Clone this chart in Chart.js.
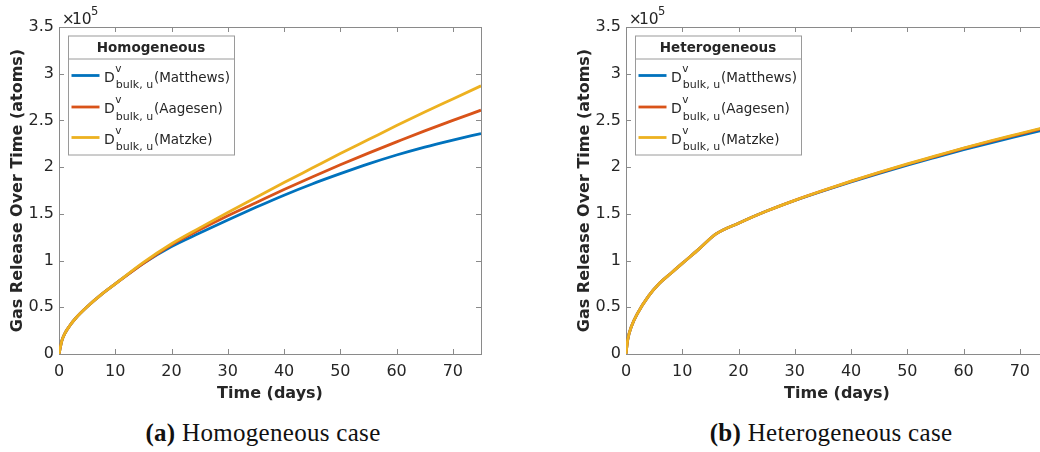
<!DOCTYPE html>
<html>
<head>
<meta charset="utf-8">
<script src="https://cdn.jsdelivr.net/npm/chart.js@4/dist/chart.umd.min.js"></script>
<style>
  html, body { margin: 0; padding: 0; background: #fff; overflow: hidden; width: 1040px; height: 452px; }
  #wrap { position: relative; width: 1040px; height: 452px; overflow: hidden; }
  #wrap canvas { position: absolute; top: 0; }
  .cap { position: absolute; top: 419px; font-family: "Liberation Serif", "Times New Roman", serif; font-size: 25px; color: #111;
         white-space: nowrap; transform: translateX(-50%); letter-spacing: 0.3px; }
  .cap b { font-weight: bold; }
</style>
</head>
<body>
<div id="wrap">
  <canvas id="homo" width="520" height="410" style="left:0px"></canvas>
  <canvas id="hetero" width="520" height="410" style="left:567px"></canvas>
  <div class="cap" style="left:263px"><b>(a)</b> Homogeneous case</div>
  <div class="cap" style="left:831px"><b>(b)</b> Heterogeneous case</div>
</div>
<script>
// Cumulative gas release, in units of 10^5 atoms, versus time in days.
const seriesNames = ['Matthews', 'Aagesen', 'Matzke'];
const seriesColors = ['#0072BD', '#D95319', '#EDB120'];

const homoDays       = [0, 0.5, 1, 2, 3, 5, 7.5, 10, 15, 20, 25, 30, 35, 40, 45, 50, 55, 60, 65, 70, 75];
const homoMatthews   = [0, 0.14, 0.215, 0.31, 0.385, 0.505, 0.635, 0.75, 0.97, 1.15, 1.295, 1.435, 1.57, 1.70, 1.82, 1.93, 2.035, 2.13, 2.215, 2.29, 2.36];
const homoAagesen    = [0, 0.14, 0.215, 0.31, 0.385, 0.505, 0.635, 0.75, 0.97, 1.17, 1.33, 1.48, 1.62, 1.76, 1.895, 2.025, 2.15, 2.27, 2.388, 2.50, 2.61];
const homoMatzke     = [0, 0.14, 0.215, 0.31, 0.385, 0.505, 0.635, 0.75, 0.98, 1.18, 1.35, 1.515, 1.675, 1.835, 1.99, 2.145, 2.295, 2.445, 2.59, 2.73, 2.87];

const heteroDays     = [0, 0.3, 1, 2, 4, 6, 8, 10, 13, 16, 20, 25, 30, 35, 40, 45, 50, 55, 60, 65, 70, 75];
const heteroMatthews = [0, 0.15, 0.30, 0.43, 0.62, 0.76, 0.865, 0.97, 1.125, 1.285, 1.40, 1.53, 1.643, 1.745, 1.842, 1.934, 2.022, 2.105, 2.186, 2.263, 2.336, 2.408];
const heteroAagesen  = [0, 0.15, 0.30, 0.43, 0.62, 0.76, 0.865, 0.97, 1.125, 1.285, 1.40, 1.53, 1.645, 1.749, 1.848, 1.942, 2.031, 2.116, 2.200, 2.279, 2.354, 2.429];
const heteroMatzke   = [0, 0.15, 0.30, 0.43, 0.62, 0.76, 0.865, 0.97, 1.125, 1.285, 1.40, 1.53, 1.645, 1.750, 1.850, 1.945, 2.035, 2.120, 2.205, 2.285, 2.360, 2.435];

const xTickValues = [0, 10, 20, 30, 40, 50, 60, 70];
const xTickLabels = ['0', '10', '20', '30', '40', '50', '60', '70'];
const yTickValues = [0, 0.5, 1, 1.5, 2, 2.5, 3, 3.5];
const yTickLabels = ['0', '0.5', '1', '1.5', '2', '2.5', '3', '3.5'];

const AXIS_GRAY = '#8a8a8a';
const TEXT = '#262626';
const SANS = '"DejaVu Sans", sans-serif';

// Box frame with inward tick marks on all four sides, legend panel and exponent label.
const framePlugin = {
  id: 'frame',
  beforeDatasetsDraw(chart) {
    const { ctx, chartArea: a, scales: { x, y } } = chart;
    ctx.save();
    ctx.strokeStyle = AXIS_GRAY;
    ctx.lineWidth = 1;
    ctx.strokeRect(a.left + 0.5, a.top + 0.5, a.right - a.left, a.bottom - a.top);
    ctx.beginPath();
    const tl = 5;
    xTickValues.forEach(v => {
      const px = Math.round(x.getPixelForValue(v)) + 0.5;
      ctx.moveTo(px, a.bottom); ctx.lineTo(px, a.bottom - tl);
      ctx.moveTo(px, a.top); ctx.lineTo(px, a.top + tl);
    });
    yTickValues.forEach(v => {
      const py = Math.round(y.getPixelForValue(v)) + 0.5;
      ctx.moveTo(a.left, py); ctx.lineTo(a.left + tl, py);
      ctx.moveTo(a.right, py); ctx.lineTo(a.right - tl, py);
    });
    ctx.stroke();
    ctx.restore();
  },
  afterDatasetsDraw(chart, args, opts) {
    const { ctx, chartArea: a } = chart;
    ctx.save();
    // exponent of the value axis
    ctx.fillStyle = TEXT;
    ctx.textAlign = 'left';
    ctx.textBaseline = 'alphabetic';
    ctx.font = '15px ' + SANS;
    ctx.fillText('\u00d7', a.left + 3, a.bottom - 330);
    ctx.font = '15.5px ' + SANS;
    ctx.fillText('10', a.left + 13, a.bottom - 330);
    ctx.font = '11.5px ' + SANS;
    ctx.fillText('5', a.left + 32, a.bottom - 339);

    // legend panel
    const bx = a.left + 9, by = a.top + 8.5, bw = 166, bh = 119;
    ctx.fillStyle = '#fff';
    ctx.fillRect(bx, by, bw, bh);
    ctx.strokeStyle = '#9a9a9a';
    ctx.lineWidth = 1;
    ctx.strokeRect(bx + 0.5, by + 0.5, bw, bh);
    ctx.beginPath();
    ctx.moveTo(bx, by + 23.5); ctx.lineTo(bx + bw, by + 23.5);
    ctx.stroke();

    ctx.fillStyle = TEXT;
    ctx.textAlign = 'center';
    ctx.textBaseline = 'middle';
    ctx.font = 'bold 13.5px ' + SANS;
    ctx.fillText(opts.title, bx + bw / 2, by + 12.5);

    ctx.textAlign = 'left';
    ctx.textBaseline = 'alphabetic';
    const rows = [40, 71.5, 102];
    chart.data.datasets.forEach((ds, i) => {
      const ey = by + rows[i];
      ctx.strokeStyle = ds.borderColor;
      ctx.lineWidth = 2.8;
      ctx.beginPath();
      ctx.moveTo(bx + 3.5, ey); ctx.lineTo(bx + 31.5, ey);
      ctx.stroke();
      ctx.fillStyle = TEXT;
      let tx = bx + 36;
      ctx.font = '14px ' + SANS;
      ctx.fillText('D', tx, ey + 6);
      tx += ctx.measureText('D').width;
      ctx.font = '10.5px ' + SANS;
      ctx.fillText('v', tx + 0.5, ey - 4);
      ctx.font = '11px ' + SANS;
      ctx.fillText('bulk, u', tx + 1, ey + 12.5);
      tx += 1 + ctx.measureText('bulk, u').width + 0.8;
      ctx.font = '13.5px ' + SANS;
      ctx.fillText('(' + ds.label + ')', tx, ey + 6);
    });
    ctx.restore();
  }
};

function makeDatasets(days, series) {
  return series.map((vals, i) => ({
    label: seriesNames[i],
    data: vals.map((v, k) => ({ x: days[k], y: v })),
    borderColor: seriesColors[i],
    backgroundColor: seriesColors[i],
    borderWidth: 2.8,
    pointRadius: 0,
    cubicInterpolationMode: 'monotone',
    fill: false,
    order: series.length - i
  }));
}

function makeChart(id, days, series, title) {
  return new Chart(document.getElementById(id), {
    type: 'line',
    data: { datasets: makeDatasets(days, series) },
    options: {
      responsive: false,
      animation: false,
      devicePixelRatio: 1,
      layout: { padding: { left: 0, top: 27, right: 39, bottom: 0 } },
      plugins: {
        legend: { display: false },
        tooltip: { enabled: false },
        frame: { title: title }
      },
      scales: {
        x: {
          type: 'linear',
          min: 0, max: 75,
          afterBuildTicks: s => { s.ticks = xTickValues.map(v => ({ value: v })); },
          afterFit: s => { s.height = 56; },
          grid: { display: false, drawTicks: false },
          border: { display: false },
          ticks: {
            padding: 8,
            color: TEXT,
            font: { family: SANS, size: 16 },
            maxRotation: 0,
            callback: (v, i) => xTickLabels[i]
          },
          title: {
            display: true,
            text: 'Time (days)',
            color: TEXT,
            font: { family: SANS, size: 16, weight: 'bold' },
            padding: { top: 0, bottom: 6.4 }
          }
        },
        y: {
          type: 'linear',
          min: 0, max: 3.5,
          afterBuildTicks: s => { s.ticks = yTickValues.map(v => ({ value: v })); },
          afterFit: s => { s.width = 59; },
          grid: { display: false, drawTicks: false },
          border: { display: false },
          ticks: {
            padding: 5,
            color: TEXT,
            font: { family: SANS, size: 16 },
            callback: (v, i) => yTickLabels[i]
          },
          title: {
            display: true,
            text: 'Gas Release Over Time (atoms)',
            color: TEXT,
            font: { family: SANS, size: 16, weight: 'bold' },
            padding: { top: 7.9, bottom: 0 }
          }
        }
      }
    },
    plugins: [framePlugin]
  });
}

makeChart('homo', homoDays, [homoMatthews, homoAagesen, homoMatzke], 'Homogeneous');
makeChart('hetero', heteroDays, [heteroMatthews, heteroAagesen, heteroMatzke], 'Heterogeneous');
</script>
</body>
</html>
